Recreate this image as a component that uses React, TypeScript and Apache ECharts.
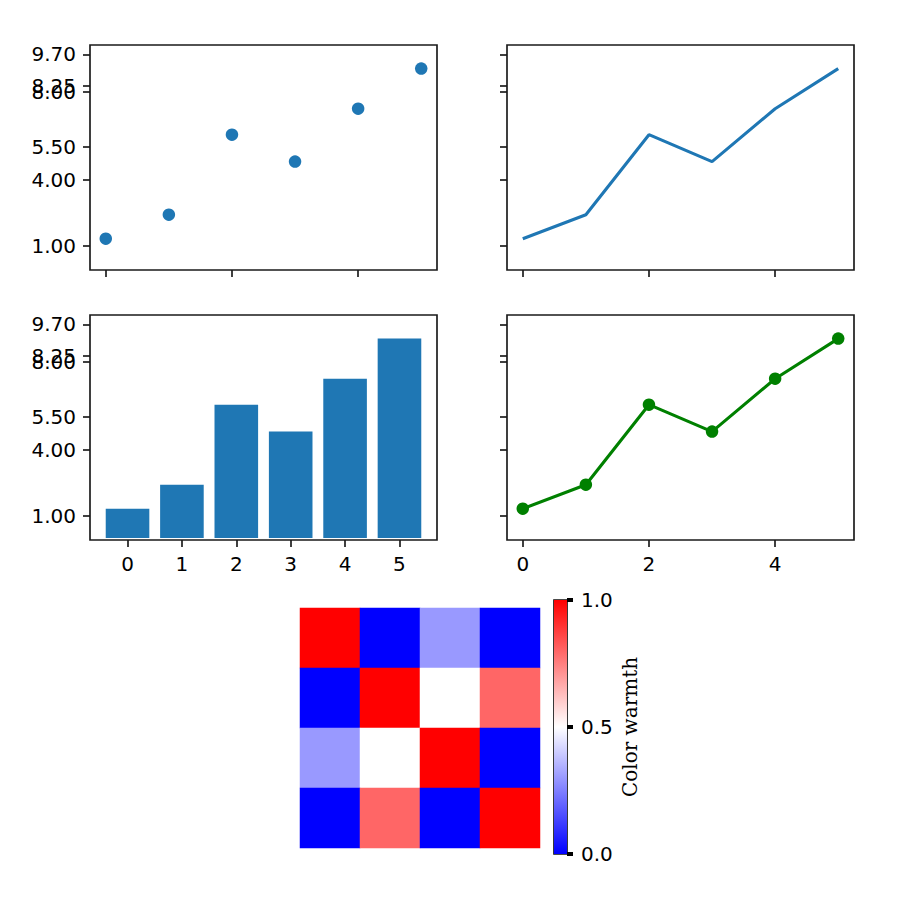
import React, { useEffect, useRef } from "react";
import * as echarts from "echarts";

const xs = [0, 1, 2, 3, 4, 5];
const values = [1.33, 2.42, 6.05, 4.83, 7.23, 9.05];
const yTicks = [1, 4, 5.5, 8, 8.25, 9.7];
const sparseXTicks = [0, 2, 4];
const barXTicks = [0, 1, 2, 3, 4, 5];
const heatCols = ["0", "1", "2", "3"];
const heatRows = ["0", "1", "2", "3"];
const heatValues = [
  [1, 0, 0.3, 0],
  [0, 1, 0.5, 0.8],
  [0.3, 0.5, 1, 0],
  [0, 0.8, 0, 1],
];
const cbarTicks = [0, 0.5, 1];
const cbarLabel = "Color warmth";

const SPINE = "#1a1a1a";
const FONT = "DejaVu Sans";

function valAxis(
  gridIndex: number,
  min: number,
  max: number,
  ticks: number[],
  showLabels: boolean,
  digits: number,
  position: string
): any {
  return {
    type: "value",
    gridIndex,
    min,
    max,
    position,
    axisLine: { show: false, onZero: false },
    splitLine: { show: false },
    axisTick: {
      show: true,
      customValues: ticks,
      length: 7,
      lineStyle: { color: SPINE, width: 1.67 },
    },
    axisLabel: {
      show: showLabels,
      customValues: ticks,
      formatter: (v: number) => v.toFixed(digits),
      margin: 14,
      fontFamily: FONT,
      fontSize: 20,
      color: "#000",
    },
  };
}

export default function App() {
  const ref = useRef<HTMLDivElement>(null);
  useEffect(() => {
    if (!ref.current) return;
    const chart = echarts.init(ref.current, null, { renderer: "svg" });
    const pts = xs.map((x, i) => [x, values[i]]);
    const gridBase = {
      show: true,
      borderColor: SPINE,
      borderWidth: 1.67,
      backgroundColor: "transparent",
      containLabel: false,
    };
    const yMin = -0.09;
    const yMax = 10.12;
    const heatData: number[][] = [];
    heatValues.forEach((row, r) =>
      row.forEach((v, c) => heatData.push([c, r, v]))
    );
    const option: any = {
      animation: false,
      backgroundColor: "#fff",
      grid: [
        { ...gridBase, left: 90, top: 45, width: 347, height: 225 },
        { ...gridBase, left: 507, top: 45, width: 347, height: 225 },
        { ...gridBase, left: 90, top: 315, width: 347, height: 225 },
        { ...gridBase, left: 507, top: 315, width: 347, height: 225 },
        { left: 300, top: 608, width: 240, height: 240 },
        {
          show: true,
          borderColor: "#111",
          borderWidth: 1.67,
          left: 554,
          top: 600,
          width: 13,
          height: 254,
        },
      ],
      xAxis: [
        valAxis(0, -0.25, 5.25, sparseXTicks, false, 0, "bottom"),
        valAxis(1, -0.25, 5.25, sparseXTicks, false, 0, "bottom"),
        valAxis(2, -0.69, 5.69, barXTicks, true, 0, "bottom"),
        valAxis(3, -0.25, 5.25, sparseXTicks, true, 0, "bottom"),
        {
          type: "category",
          gridIndex: 4,
          data: heatCols,
          show: false,
        },
        {
          type: "category",
          gridIndex: 5,
          data: [""],
          show: false,
        },
      ],
      yAxis: [
        valAxis(0, yMin, yMax, yTicks, true, 2, "left"),
        valAxis(1, yMin, yMax, yTicks, false, 2, "left"),
        valAxis(2, yMin, yMax, yTicks, true, 2, "left"),
        valAxis(3, yMin, yMax, yTicks, false, 2, "left"),
        {
          type: "category",
          gridIndex: 4,
          data: heatRows,
          inverse: true,
          show: false,
        },
        {
          ...valAxis(5, 0, 1, cbarTicks, true, 1, "right"),
          axisTick: {
            show: true,
            customValues: cbarTicks,
            length: 6,
            lineStyle: { color: "#000", width: 4 },
          },
          name: cbarLabel,
          nameLocation: "middle",
          nameRotate: 90,
          nameGap: 53,
          nameTextStyle: {
            fontFamily: "DejaVu Serif",
            fontSize: 20,
            color: "#000",
          },
        },
      ],
      visualMap: {
        type: "continuous",
        show: false,
        min: 0,
        max: 1,
        seriesIndex: 4,
        inRange: { color: ["#0000ff", "#ffffff", "#ff0000"] },
      },
      series: [
        {
          type: "scatter",
          xAxisIndex: 0,
          yAxisIndex: 0,
          data: pts,
          symbolSize: 12.5,
          itemStyle: { color: "#1f77b4", opacity: 1 },
        },
        {
          type: "line",
          xAxisIndex: 1,
          yAxisIndex: 1,
          data: pts,
          showSymbol: false,
          lineStyle: { color: "#1f77b4", width: 3.1 },
          itemStyle: { color: "#1f77b4" },
        },
        {
          type: "bar",
          xAxisIndex: 2,
          yAxisIndex: 2,
          data: pts,
          barWidth: 43.6,
          itemStyle: { color: "#1f77b4" },
        },
        {
          type: "line",
          xAxisIndex: 3,
          yAxisIndex: 3,
          data: pts,
          symbol: "circle",
          symbolSize: 12.5,
          lineStyle: { color: "#008000", width: 3.1 },
          itemStyle: { color: "#008000" },
        },
        {
          type: "heatmap",
          xAxisIndex: 4,
          yAxisIndex: 4,
          data: heatData,
        },
        {
          type: "bar",
          xAxisIndex: 5,
          yAxisIndex: 5,
          data: [1],
          barWidth: "100%",
          itemStyle: {
            color: new echarts.graphic.LinearGradient(0, 0, 0, 1, [
              { offset: 0, color: "#ff0000" },
              { offset: 0.5, color: "#ffffff" },
              { offset: 1, color: "#0000ff" },
            ]),
          },
        },
      ],
    };
    chart.setOption(option);
    return () => chart.dispose();
  }, []);
  return (
    <div
      ref={ref}
      style={{
        position: "absolute",
        left: 0,
        top: 0,
        width: 900,
        height: 900,
      }}
    />
  );
}
